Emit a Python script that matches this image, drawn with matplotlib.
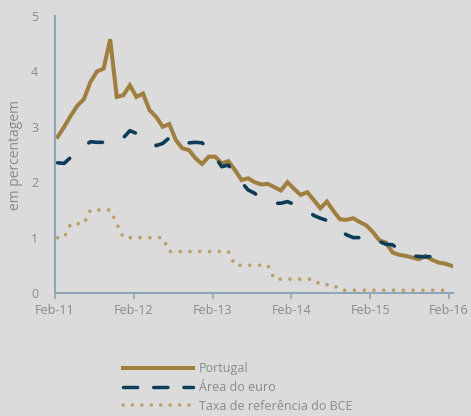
import matplotlib
matplotlib.use("Agg")
from matplotlib import pyplot as plt
from matplotlib.lines import Line2D

plt.rcParams['font.family'] = ['Open Sans', 'DejaVu Sans']

# monthly values, Feb-11 .. Feb-16
portugal = [2.82, 3.0, 3.2, 3.38, 3.5, 3.81, 4.0, 4.05, 4.58, 3.54,
            3.57, 3.75, 3.54, 3.6, 3.3, 3.18, 3.0, 3.05, 2.76, 2.61,
            2.58, 2.43, 2.33, 2.46, 2.46, 2.34, 2.38, 2.22, 2.04, 2.07,
            2.0, 1.96, 1.97, 1.91, 1.85, 2.0, 1.88, 1.77, 1.82, 1.68,
            1.53, 1.65, 1.48, 1.33, 1.32, 1.35, 1.28, 1.22, 1.1, 0.95,
            0.91, 0.73, 0.69, 0.67, 0.64, 0.61, 0.67, 0.6, 0.55, 0.53,
            0.49]
euro = [2.35, 2.34, 2.45, 2.55, 2.65, 2.73, 2.72, 2.72, 2.82, 2.8,
        2.8, 2.93, 2.88, 2.85, 2.78, 2.66, 2.7, 2.8, 2.68, 2.7,
        2.71, 2.72, 2.71, 2.61, 2.45, 2.28, 2.31, 2.13, 2.0, 1.86,
        1.8, 1.7, 1.65, 1.62, 1.62, 1.65, 1.6, 1.55, 1.5, 1.4,
        1.35, 1.31, 1.2, 1.12, 1.05, 1.0, 1.0, 1.05, 0.99, 0.93,
        0.88, 0.87, 0.78, 0.69, 0.67, 0.66, 0.65, 0.66, 0.66, 0.66,
        0.62]
bce = [1.0, 1.0, 1.25, 1.25, 1.25, 1.5, 1.5, 1.5, 1.5, 1.25,
       1.0, 1.0, 1.0, 1.0, 1.0, 1.0, 1.0, 0.75, 0.75, 0.75,
       0.75, 0.75, 0.75, 0.75, 0.75, 0.75, 0.75, 0.5, 0.5, 0.5,
       0.5, 0.5, 0.5, 0.25, 0.25, 0.25, 0.25, 0.25, 0.25, 0.25,
       0.15, 0.15, 0.15, 0.05, 0.05, 0.05, 0.05, 0.05, 0.05, 0.05,
       0.05, 0.05, 0.05, 0.05, 0.05, 0.05, 0.05, 0.05, 0.05, 0.05,
       0.05]
tick_labels = ["Feb-11", "Feb-12", "Feb-13", "Feb-14", "Feb-15", "Feb-16"]

bg = "#dbdbdb"
gold = "#a07f3e"
gold_light = "#c0a06a"
navy = "#0b3c5a"
axis_col = "#8fa6b6"
txt = "#8a8a8a"

dash_ls = (0, (3.9, 6.8))       # in the chart
dash_ls_leg = (0, (4.1, 4.6))   # in the legend
dot_ls = (0, (0.01, 2.6))

x = [i + 0.4 for i in range(len(portugal))]

fig = plt.figure(figsize=(4.71, 4.16), dpi=100, facecolor=bg)
ax = fig.add_axes([55 / 471, 123 / 416, 398 / 471, 277 / 416], facecolor=bg)

ax.plot(x, bce, color=gold_light, lw=2.7, linestyle=dot_ls,
        dash_capstyle='round')
ax.plot(x, portugal, color=gold, lw=2.9, solid_joinstyle='miter')
ax.plot(x, euro, color=navy, lw=2.6, linestyle=dash_ls,
        dash_capstyle='round')

ax.set_xlim(0, 60.6)
ax.set_ylim(0, 5)
ax.set_xticks([0, 12, 24, 36, 48, 60])
ax.set_xticklabels(tick_labels)
ax.set_yticks([0, 1, 2, 3, 4, 5])
for s in ['top', 'right']:
    ax.spines[s].set_visible(False)
for s in ['left', 'bottom']:
    ax.spines[s].set_color(axis_col)
    ax.spines[s].set_linewidth(1.5)
ax.tick_params(axis='x', colors=axis_col, labelcolor=txt, labelsize=9,
               length=4, width=1.2, pad=4)
ax.tick_params(axis='y', length=0, labelcolor=txt, labelsize=9, pad=12)
ax.set_ylabel("em percentagem", color=txt, fontsize=10)
ax.yaxis.set_label_coords(-0.08, 0.5)

handles = [Line2D([], [], color=gold, lw=2.9),
           Line2D([], [], color=navy, lw=2.5, linestyle=dash_ls_leg,
                  dash_capstyle='round'),
           Line2D([], [], color=gold_light, lw=2.6, linestyle=dot_ls,
                  dash_capstyle='round')]
labels = ["Portugal", "Área do euro", "Taxa de referência do BCE"]
leg = fig.legend(handles, labels, loc='upper left',
                 bbox_to_anchor=(112 / 471, 1 - 351 / 416), frameon=False,
                 fontsize=9, handlelength=5.6, handletextpad=0.45,
                 labelspacing=0.45, labelcolor=txt)

fig.savefig("out.png", dpi=100, facecolor=bg)
